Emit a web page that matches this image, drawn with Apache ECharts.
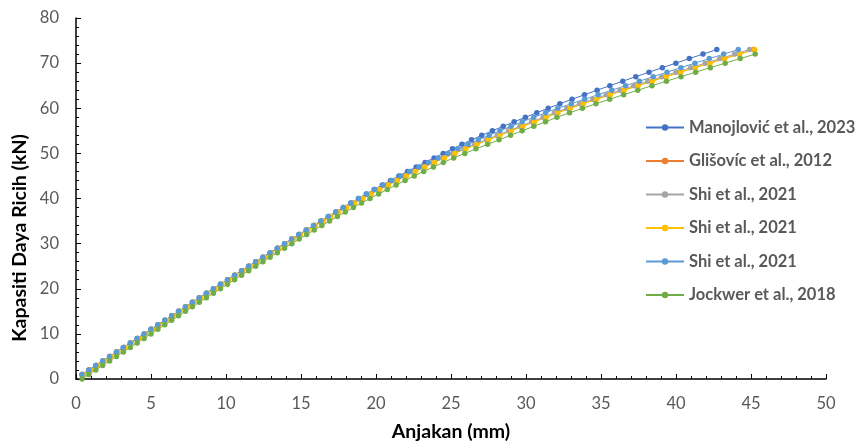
<!DOCTYPE html>
<html>
<head>
<meta charset="utf-8">
<script src="https://cdn.jsdelivr.net/npm/echarts@6/dist/echarts.min.js"></script>
<style>
html,body{margin:0;padding:0;background:#ffffff;}
#chart{width:860px;height:447px;}
</style>
</head>
<body>
<div id="chart"></div>
<script>
// ---------- DATA ----------
// internal ids are unique (legend would merge identical names); the shown label drops the "#n" suffix
const seriesIds = [
  'Manojlović et al., 2023',
  'Glišovíc et al., 2012',
  'Shi et al., 2021 #1',
  'Shi et al., 2021 #2',
  'Shi et al., 2021 #3',
  'Jockwer et al., 2018'
];

// load levels (kN)
const loads1to73 = [
  1,2,3,4,5,6,7,8,9,10,
  11,12,13,14,15,16,17,18,19,20,
  21,22,23,24,25,26,27,28,29,30,
  31,32,33,34,35,36,37,38,39,40,
  41,42,43,44,45,46,47,48,49,50,
  51,52,53,54,55,56,57,58,59,60,
  61,62,63,64,65,66,67,68,69,70,
  71,72,73
];
const loads0to72 = [
  0,1,2,3,4,5,6,7,8,9,
  10,11,12,13,14,15,16,17,18,19,
  20,21,22,23,24,25,26,27,28,29,
  30,31,32,33,34,35,36,37,38,39,
  40,41,42,43,44,45,46,47,48,49,
  50,51,52,53,54,55,56,57,58,59,
  60,61,62,63,64,65,66,67,68,69,
  70,71,72
];

// slip (mm) for each load level
const slipManojlovic = [
  0.40,0.86,1.32,1.78,2.24,2.70,3.16,3.62,4.08,4.54,
  5.00,5.46,5.92,6.38,6.84,7.30,7.76,8.22,8.69,9.16,
  9.63,10.10,10.57,11.04,11.51,11.98,12.46,12.94,13.42,13.90,
  14.38,14.86,15.35,15.84,16.33,16.82,17.32,17.82,18.32,18.83,
  19.35,19.88,20.42,20.97,21.53,22.10,22.68,23.27,23.87,24.48,
  25.10,25.73,26.37,27.05,27.76,28.48,29.21,29.96,30.72,31.48,
  32.26,33.07,33.90,34.74,35.59,36.45,37.32,38.20,39.09,39.99,
  40.89,41.80,42.72
];
const slipGlisovic = [
  0.44,0.90,1.36,1.82,2.28,2.74,3.20,3.66,4.12,4.58,
  5.04,5.50,5.96,6.42,6.88,7.34,7.80,8.26,8.73,9.20,
  9.67,10.14,10.61,11.08,11.55,12.02,12.50,12.98,13.46,13.94,
  14.43,14.92,15.42,15.92,16.43,16.94,17.46,17.99,18.53,19.08,
  19.64,20.21,20.79,21.38,21.98,22.59,23.22,23.87,24.53,25.22,
  25.95,26.69,27.46,28.22,28.98,29.75,30.53,31.31,32.08,32.91,
  33.78,34.67,35.58,36.50,37.43,38.37,39.32,40.28,41.25,42.23,
  43.21,44.20,45.18
];
const slipShiA = [
  0.46,0.92,1.38,1.84,2.30,2.76,3.22,3.68,4.14,4.60,
  5.06,5.52,5.98,6.44,6.90,7.36,7.82,8.28,8.75,9.22,
  9.69,10.16,10.63,11.10,11.57,12.04,12.52,13.00,13.48,13.96,
  14.45,14.94,15.44,15.94,16.45,16.96,17.48,18.01,18.55,19.10,
  19.65,20.21,20.79,21.37,21.96,22.56,23.18,23.82,24.47,25.14,
  25.86,26.59,27.35,28.09,28.84,29.60,30.37,31.14,31.90,32.72,
  33.58,34.46,35.36,36.27,37.19,38.12,39.06,40.01,40.98,41.95,
  42.92,43.91,44.90
];
const slipShiB = [
  0.48,0.94,1.40,1.86,2.32,2.78,3.24,3.70,4.16,4.62,
  5.08,5.54,6.00,6.46,6.92,7.38,7.84,8.30,8.77,9.24,
  9.71,10.18,10.65,11.12,11.59,12.06,12.54,13.02,13.50,13.98,
  14.47,14.96,15.46,15.96,16.47,16.98,17.50,18.03,18.57,19.12,
  19.68,20.25,20.83,21.42,22.02,22.63,23.26,23.91,24.57,25.26,
  25.99,26.73,27.50,28.26,29.02,29.79,30.57,31.35,32.12,32.95,
  33.82,34.71,35.62,36.54,37.47,38.41,39.36,40.32,41.29,42.27,
  43.25,44.25,45.25
];
const slipShiC = [
  0.40,0.86,1.32,1.78,2.24,2.70,3.16,3.62,4.08,4.54,
  5.00,5.46,5.92,6.38,6.84,7.30,7.76,8.22,8.69,9.16,
  9.63,10.10,10.57,11.04,11.51,11.98,12.46,12.94,13.42,13.90,
  14.38,14.86,15.35,15.84,16.33,16.82,17.32,17.82,18.33,18.85,
  19.38,19.92,20.48,21.05,21.64,22.24,22.86,23.49,24.13,24.79,
  25.46,26.14,26.83,27.54,28.26,29.00,29.75,30.52,31.31,32.12,
  33.02,33.91,34.81,35.72,36.64,37.56,38.48,39.40,40.33,41.26,
  42.22,43.18,44.15
];
const slipJockwer = [
  0.40,0.86,1.32,1.78,2.24,2.70,3.16,3.62,4.08,4.54,
  5.00,5.46,5.92,6.38,6.84,7.30,7.76,8.22,8.69,9.16,
  9.63,10.10,10.57,11.04,11.51,11.98,12.46,12.94,13.42,13.90,
  14.39,14.88,15.38,15.88,16.39,16.90,17.42,17.95,18.49,19.04,
  19.60,20.17,20.75,21.34,21.94,22.55,23.18,23.83,24.49,25.18,
  25.92,26.66,27.44,28.20,28.97,29.74,30.52,31.30,32.06,32.90,
  33.76,34.66,35.58,36.51,37.45,38.40,39.36,40.33,41.31,42.29,
  43.28,44.28,45.28
];

const xTickInterval = 5, xMin = 0, xMax = 50;
const yTickInterval = 10, yMin = 0, yMax = 80;

const xTitle = 'Anjakan (mm)';
const yTitle = 'Kapasiti Daya Ricih (kN)';

// ---------- STYLE ----------
const colors = ['#4472C4', '#ED7D31', '#A5A5A5', '#FFC000', '#5B9BD5', '#70AD47'];
const FONT = 'Lato';

const slips = [slipManojlovic, slipGlisovic, slipShiA, slipShiB, slipShiC, slipJockwer];
const loads = [loads1to73, loads1to73, loads1to73, loads1to73, loads1to73, loads0to72];

function pairs(xs, ys) {
  const out = [];
  for (let i = 0; i < xs.length; i++) out.push([xs[i], ys[i]]);
  return out;
}

const series = seriesIds.map((name, i) => ({
  name: name,
  type: 'line',
  data: pairs(slips[i], loads[i]),
  symbol: 'circle',
  symbolSize: 5.5,
  showSymbol: true,
  showAllSymbol: true,
  lineStyle: { width: 1, color: colors[i] },
  itemStyle: { color: colors[i] },
  emphasis: { disabled: true },
  animation: false
}));

const chart = echarts.init(document.getElementById('chart'), null, { renderer: 'canvas' });
chart.setOption({
  animation: false,
  color: colors,
  grid: { left: 76, right: 34, top: 18, bottom: 64, containLabel: false },
  legend: {
    orient: 'vertical',
    left: 645,
    top: 119,
    padding: 0,
    itemWidth: 38,
    itemHeight: 8,
    itemGap: 16.5,
    selectedMode: false,
    formatter: function (name) { return name.replace(/ #\d$/, ''); },
    textStyle: { fontFamily: FONT, fontWeight: 'bold', fontSize: 16.5, color: '#595959', lineHeight: 16 },
    data: seriesIds.slice()
  },
  xAxis: {
    type: 'value',
    min: xMin, max: xMax, interval: xTickInterval,
    name: xTitle,
    nameLocation: 'middle',
    nameGap: 43,
    nameTextStyle: { fontFamily: FONT, fontWeight: 'bold', fontSize: 19.5, color: '#000' },
    axisLine: { show: true, lineStyle: { color: '#000', width: 1.5 } },
    axisTick: { show: true, inside: true, length: 5, lineStyle: { color: '#000', width: 1 } },
    minorTick: { show: true, splitNumber: 5, length: 3, lineStyle: { color: '#000', width: 1 } },
    splitLine: { show: false },
    axisLabel: { fontFamily: FONT, fontSize: 16.5, color: '#595959', margin: 16 }
  },
  yAxis: {
    type: 'value',
    min: yMin, max: yMax, interval: yTickInterval,
    axisLine: { show: true, lineStyle: { color: '#000', width: 1.5 } },
    axisTick: { show: true, inside: true, length: 5, lineStyle: { color: '#000', width: 1 } },
    minorTick: { show: true, splitNumber: 5, length: 3, lineStyle: { color: '#000', width: 1 } },
    splitLine: { show: false },
    axisLabel: { fontFamily: FONT, fontSize: 16.5, color: '#595959', margin: 17 }
  },
  graphic: [{
    type: 'text',
    x: 20,
    y: 238,
    rotation: Math.PI / 2,
    style: {
      text: yTitle,
      fontFamily: FONT,
      fontWeight: 'bold',
      fontSize: 19.5,
      fill: '#000',
      align: 'center',
      verticalAlign: 'middle'
    }
  }],
  series: series
});
</script>
</body>
</html>
